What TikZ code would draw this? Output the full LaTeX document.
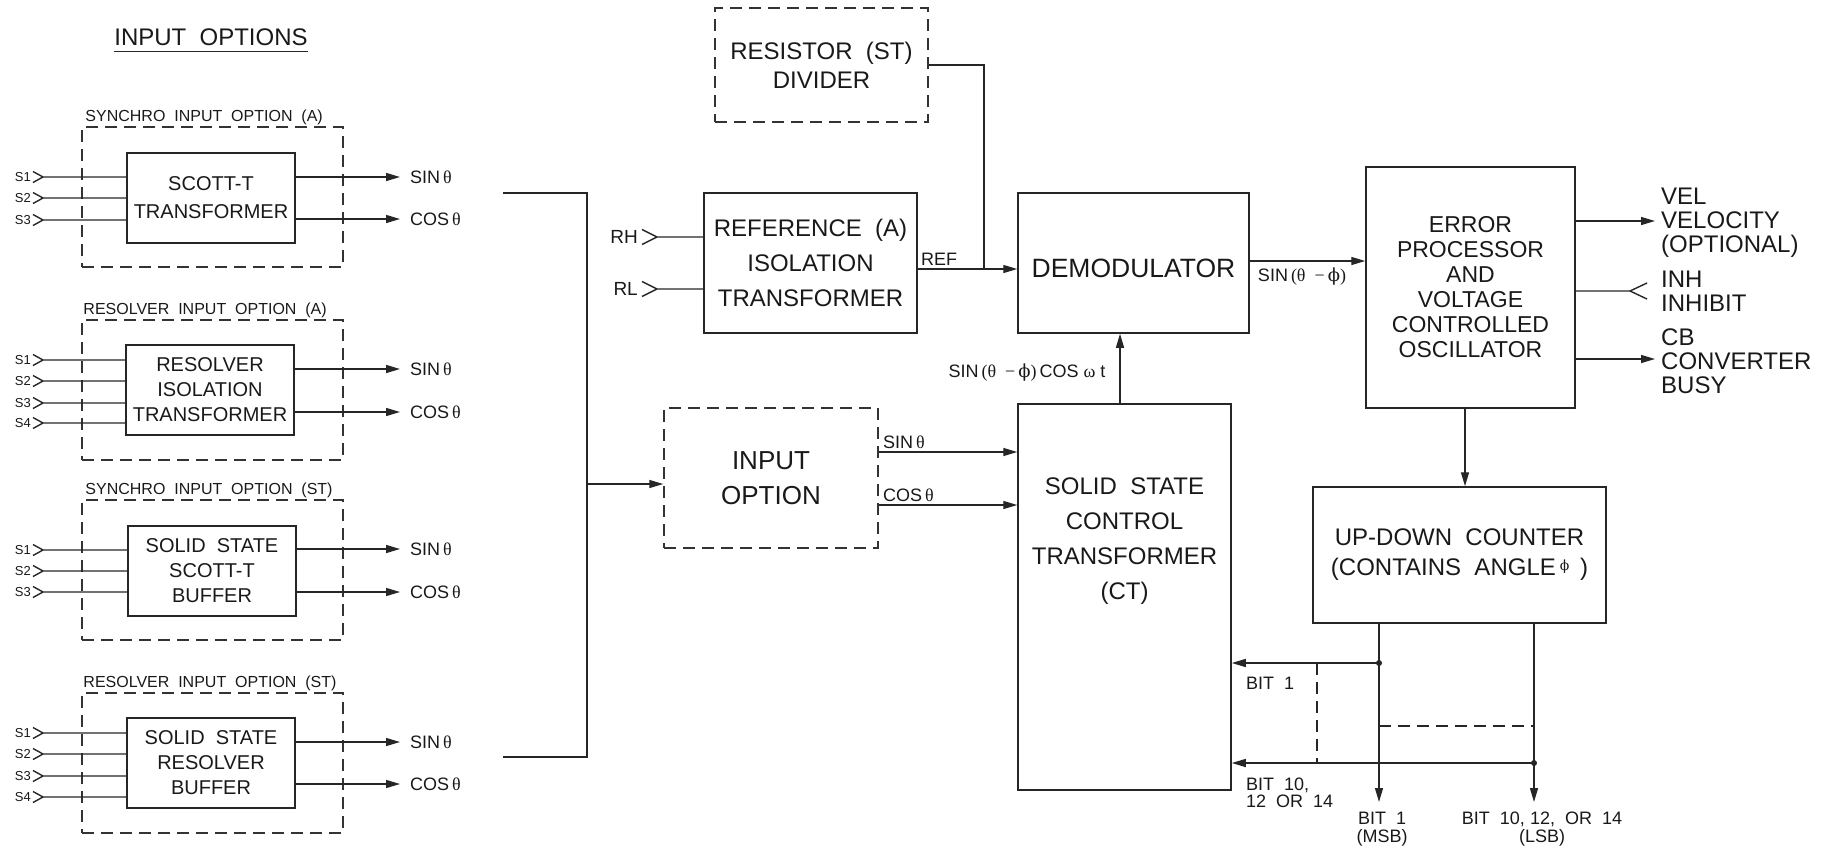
\documentclass[tikz,border=0pt]{standalone}
\usepackage{fontspec}
\setmainfont{Liberation Sans}
\newfontfamily\gkfont{Liberation Serif}
\newfontfamily\phfont{DejaVu Serif}
\newcommand{\gk}[1]{{\gkfont #1}}
\newcommand{\ph}{{\phfont ϕ}}
\newcommand{\fsz}[2]{\fontsize{#1}{#2}\selectfont}
\usetikzlibrary{arrows.meta}

\begin{document}
\begin{tikzpicture}[x=1pt, y=-1pt,
  blk/.style={draw=black!85, line width=1.5pt, inner sep=0pt, align=center, text=black!90},
  inbox/.style={blk, minimum width=168, minimum height=90, font=\fsz{20}{25}},
  opt/.style={draw=black!80, line width=1.5pt, dash pattern=on 12pt off 7pt,
              inner sep=0pt, align=center, text=black!90},
  grp/.style={opt, minimum width=261, minimum height=140},
  grplbl/.style={anchor=base west, inner sep=0pt, font=\fsz{16}{16}, text=black!90},
  wire/.style={line width=1.4pt, draw=black!85},
  arrow/.style={wire, -{Triangle[length=14pt,width=8pt]}},
  dashline/.style={wire, dash pattern=on 12pt off 7pt},
  sig/.style={inner sep=0pt, font=\fsz{18}{18}, text=black!90},
  pin/.style={inner sep=0pt, font=\fsz{13}{13}, text=black!90},
  outlbl/.style={anchor=west, align=left, inner sep=0pt, font=\fsz{24}{24}, text=black!90}
]
\useasboundingbox (0,0) rectangle (1839,852);

% input options column
\node[inner sep=0pt, font=\fsz{24}{24}, text=black!90] (title) at (211,37) {INPUT~~OPTIONS};
\draw[line width=1.2pt, black!85] ([yshift=-6pt]title.base west) -- ([yshift=-6pt]title.base east);

% synchro input option (A)
\node[grp] (grpa) at (212.5,197) {};
\node[grplbl] at ([xshift=4pt,yshift=5pt]grpa.north west) {SYNCHRO~~INPUT~~OPTION~~(A)};
\node[inbox] (scott) at (211,198) {SCOTT-T\\[3pt]TRANSFORMER};
\foreach \s/\y in {1/177,2/198,3/220}{
  \coordinate (sa) at (43,\y);
  \draw[wire] (sa) ++(-10,-5.5) -- (sa) -- ++(-10,5.5) (sa) -- (sa -| scott.west);
  \node[pin, anchor=east] at ([xshift=-12pt]sa) {S\s};
}
\foreach \y/\t in {177/SIN,219/COS}{
  \coordinate (oa) at (400,\y);
  \draw[arrow] (oa -| scott.east) -- (oa);
  \node[sig, anchor=west] at (410,\y) {\t\,\gk{θ}};
}

% resolver input option (A)
\node[grp] (grpb) at (212.5,390) {};
\node[grplbl] at ([xshift=2pt,yshift=5pt]grpb.north west) {RESOLVER~~INPUT~~OPTION~~(A)};
\node[inbox] (resiso) at (210,390) {RESOLVER\\ISOLATION\\TRANSFORMER};
\foreach \s/\y in {1/360,2/381,3/403,4/423}{
  \coordinate (sb) at (43,\y);
  \draw[wire] (sb) ++(-10,-5.5) -- (sb) -- ++(-10,5.5) (sb) -- (sb -| resiso.west);
  \node[pin, anchor=east] at ([xshift=-12pt]sb) {S\s};
}
\foreach \y/\t in {369/SIN,412/COS}{
  \coordinate (ob) at (400,\y);
  \draw[arrow] (ob -| resiso.east) -- (ob);
  \node[sig, anchor=west] at (410,\y) {\t\,\gk{θ}};
}

% synchro input option (ST)
\node[grp] (grpc) at (212.5,570) {};
\node[grplbl] at ([xshift=4pt,yshift=5pt]grpc.north west) {SYNCHRO~~INPUT~~OPTION~~(ST)};
\node[inbox] (ssscott) at (212,571) {SOLID~~STATE\\SCOTT-T\\BUFFER};
\foreach \s/\y in {1/550,2/571,3/592}{
  \coordinate (sc) at (43,\y);
  \draw[wire] (sc) ++(-10,-5.5) -- (sc) -- ++(-10,5.5) (sc) -- (sc -| ssscott.west);
  \node[pin, anchor=east] at ([xshift=-12pt]sc) {S\s};
}
\foreach \y/\t in {549/SIN,592/COS}{
  \coordinate (oc) at (400,\y);
  \draw[arrow] (oc -| ssscott.east) -- (oc);
  \node[sig, anchor=west] at (410,\y) {\t\,\gk{θ}};
}

% resolver input option (ST)
\node[grp] (grpd) at (212.5,763) {};
\node[grplbl] at ([xshift=2pt,yshift=5pt]grpd.north west) {RESOLVER~~INPUT~~OPTION~~(ST)};
\node[inbox] (ssres) at (211,763) {SOLID~~STATE\\RESOLVER\\BUFFER};
\foreach \s/\y in {1/733,2/754,3/776,4/797}{
  \coordinate (sd) at (43,\y);
  \draw[wire] (sd) ++(-10,-5.5) -- (sd) -- ++(-10,5.5) (sd) -- (sd -| ssres.west);
  \node[pin, anchor=east] at ([xshift=-12pt]sd) {S\s};
}
\foreach \y/\t in {742/SIN,784/COS}{
  \coordinate (od) at (400,\y);
  \draw[arrow] (od -| ssres.east) -- (od);
  \node[sig, anchor=west] at (410,\y) {\t\,\gk{θ}};
}

% main blocks
\node[opt, minimum width=213, minimum height=114, font=\fsz{24}{29}] (divider) at (821.5,65) {RESISTOR~~(ST)\\DIVIDER};
\node[blk, minimum width=213, minimum height=140, font=\fsz{24}{35}] (refiso) at (810.5,263) {REFERENCE~~(A)\\ISOLATION\\TRANSFORMER};
\node[opt, minimum width=214, minimum height=140, font=\fsz{26}{35}] (inopt) at (771,478) {INPUT\\OPTION};
\node[blk, minimum width=231, minimum height=140, font=\fsz{26.5}{30}, text height=29pt] (demod) at (1133.5,263) {DEMODULATOR};
\node[blk, minimum width=213, minimum height=386] (ct) at (1124.5,597) {};
\node[inner sep=0pt, align=center, font=\fsz{24}{35}, text=black!90] (cttxt) at (1124.5,541) {SOLID~~STATE\\CONTROL\\TRANSFORMER\\(CT)};
\node[blk, minimum width=209, minimum height=241, font=\fsz{23}{25}] (ep) at (1470.5,287.5) {ERROR\\PROCESSOR\\AND\\VOLTAGE\\CONTROLLED\\OSCILLATOR};
\node[blk, minimum width=293, minimum height=136, font=\fsz{24}{30}] (udc) at (1459.5,555) {UP-DOWN~~COUNTER\\(CONTAINS~~ANGLE\,\raisebox{5pt}{\fsz{14}{14}\ph}\,~)};

% bus into input option
\coordinate (bt) at (503,193);
\coordinate (bb) at (503,757);
\coordinate (bj) at (587,484);
\draw[wire] (bt) -- (bt -| bj) -- (bb -| bj) -- (bb);
\draw[arrow] (bj) -- (bj -| inopt.west);

% reference path
\coordinate (rh) at (657,237);
\coordinate (rl) at (657,289);
\foreach \c/\t in {rh/RH,rl/RL}{
  \draw[wire] (\c) ++(-15,-7.5) -- (\c) -- ++(-15,7.5) (\c) -- (\c -| refiso.west);
  \node[inner sep=0pt, anchor=east, font=\fsz{19}{19}, text=black!90] at ([xshift=-19pt]\c) {\t};
}
\coordinate (rj) at (984,269);
\draw[wire] (divider.east) -- (divider.east -| rj) -- (rj);
\draw[arrow] (refiso.east |- rj) -- (demod.west |- rj);
\node[sig, anchor=west] at (921,259) {REF};

% signal path
\draw[arrow] ([yshift=26pt]inopt.east) -- ([yshift=26pt]inopt.east -| ct.west);
\draw[arrow] ([yshift=-27pt]inopt.east) -- ([yshift=-27pt]inopt.east -| ct.west);
\node[sig, anchor=west] at (883,442) {SIN\,\gk{θ}};
\node[sig, anchor=west] at (883,495) {COS\,\gk{θ}};
\draw[arrow] ([xshift=-4.5pt]ct.north) -- ([xshift=-4.5pt]ct.north |- demod.south);
\node[sig] at (1027,373) {SIN\,\gk{(θ\ \ −\,}\ph\gk{)}\,COS\ \gk{ω}\ t};
\draw[arrow] ([yshift=2pt]demod.east) -- ([yshift=2pt]demod.east -| ep.west);
\node[sig] at (1302,277) {SIN\,\gk{(θ\ \ −\,}\ph\gk{)}};

% error processor outputs
\coordinate (vel) at (1655,221);
\coordinate (inh) at (1630,291);
\coordinate (cb) at (1655,359);
\draw[arrow] (ep.east |- vel) -- (vel);
\draw[wire] (ep.east |- inh) -- (inh) ++(17,-8) -- (inh) -- ++(17,8);
\draw[arrow] (ep.east |- cb) -- (cb);
\node[outlbl] at (1661,223) {VEL\\VELOCITY\\(OPTIONAL)};
\node[outlbl] at (1661,291.5) {INH\\INHIBIT};
\node[outlbl] at (1661,361) {CB\\CONVERTER\\BUSY};
\draw[arrow] ([xshift=-5.5pt]ep.south) -- ([xshift=-5.5pt]ep.south |- udc.north);

% counter bits
\coordinate (msb) at (1379,802);
\coordinate (lsb) at (1534,802);
\coordinate (b1) at (1379,663);
\coordinate (bn) at (1534,763);
\draw[arrow] (udc.south -| msb) -- (msb);
\draw[arrow] (udc.south -| lsb) -- (lsb);
\draw[arrow] (b1) -- (b1 -| ct.east);
\draw[arrow] (bn) -- (bn -| ct.east);
\fill[black!85] (b1) circle (3pt) (bn) circle (3pt);
\coordinate (dv) at (1317,663);
\draw[dashline] (dv) -- (dv |- bn);
\coordinate (dh) at (1379,726);
\draw[dashline] (dh) -- (dh -| bn);
\node[sig, anchor=west] at (1246,683) {BIT~~1};
\node[sig, anchor=west, align=left, font=\fsz{18}{17}] at (1246,793) {BIT~~10,\\12~~OR~~14};
\node[sig, align=center] at (1382,829) {BIT~~1\\(MSB)};
\node[sig, align=center] at (1542,829) {BIT~~10,~12,~~OR~~14\\(LSB)};
\end{tikzpicture}
\end{document}
